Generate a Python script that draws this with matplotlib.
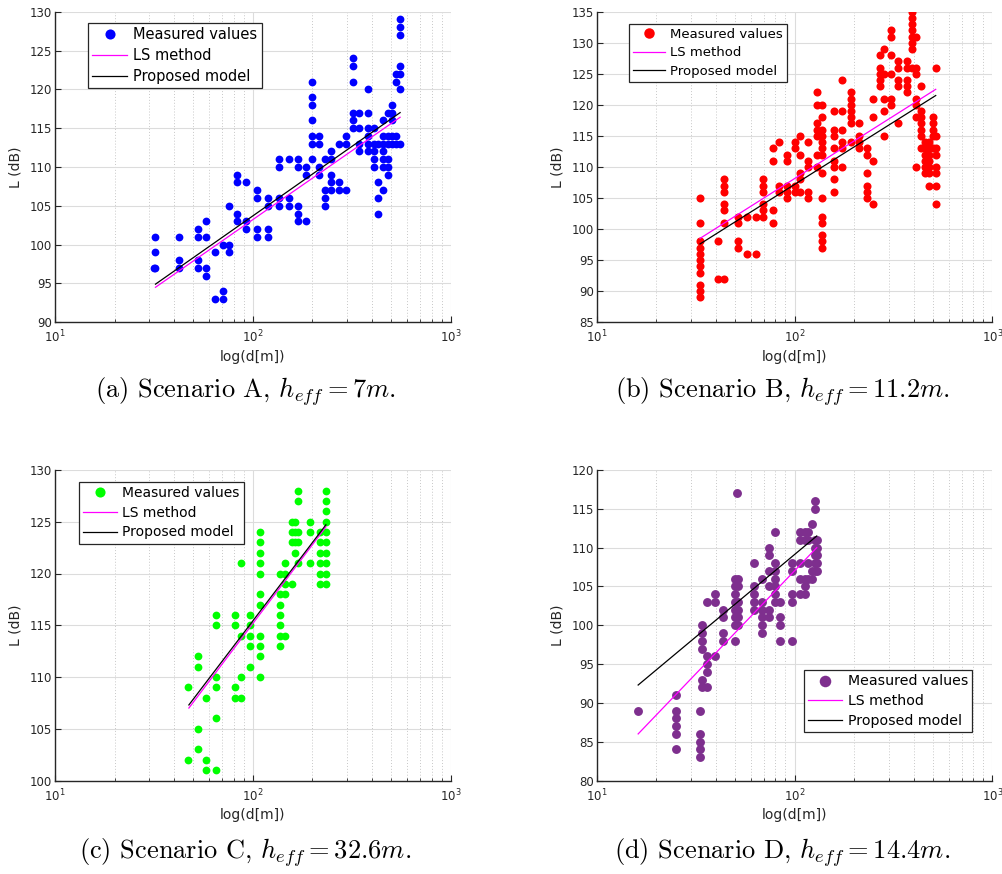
import numpy as np
import matplotlib.pyplot as plt
from matplotlib.ticker import LogLocator, NullFormatter, MultipleLocator

plt.rcParams['mathtext.fontset'] = 'cm'

# Scenario A: distance columns (m) and measured path loss (dB)
a_cols = [
    (31.7, [97]), (32.2, [101, 99, 97]), (42.3, [101, 98, 97]),
    (52.7, [102, 101, 98, 97]), (58, [103, 101, 97, 96]), (64.3, [99, 93]),
    (70.3, [100, 94, 93]), (75.9, [105, 100, 99]), (83.3, [109, 108, 104, 103]),
    (92.2, [108, 103, 102]), (104.7, [107, 106, 102, 101]), (118.6, [106, 105, 102, 101]),
    (135.8, [111, 110, 106, 105]), (152.5, [111, 106, 105]), (170, [111, 110, 105, 104, 103]),
    (185, [110, 109, 103]), (199.5, [121, 119, 118, 116, 114, 113, 111]),
    (216, [114, 113, 110, 109]), (231, [111, 107, 106, 105]), (248, [112, 111, 109, 108, 107]),
    (271, [113, 108, 107]), (295, [114, 113, 107]), (319, [124, 123, 121, 117, 116, 115]),
    (342, [117, 115, 113, 112]), (382, [120, 117, 115, 114, 113, 112]),
    (408, [115, 113, 112, 111, 110]), (431, [113, 108, 106, 104]),
    (455, [116, 114, 113, 112, 111, 110, 107]), (482, [117, 114, 113, 111, 110, 109]),
    (507, [118, 117, 116, 114, 113]), (532, [122, 121, 114, 113]),
    (555, [129, 128, 127, 123, 122, 120, 113]),
]
a_ls = ([32.2, 555], [94.5, 116.4])
a_prop = ([32.2, 555], [94.9, 117.0])

# Scenario B
b_cols = [
    (33.3, [105, 101, 98, 97, 96, 95, 94, 93, 91, 90, 89]), (41.2, [98, 92]),
    (44.2, [108, 107, 106, 104, 103, 101, 92]), (52, [102, 101, 98, 97]),
    (57.3, [102, 96]), (63.8, [102, 96]), (69, [108, 107, 106, 104, 103, 102]),
    (78.2, [113, 111, 103, 101]), (83.8, [114, 107, 106]), (91.3, [112, 111, 107, 106, 105]),
    (100, [114, 113, 107, 106]), (107, [115, 112, 109, 108, 106]),
    (117, [114, 111, 110, 106, 105]), (129.5, [122, 120, 117, 116, 115, 112, 110]),
    (137, [120, 118, 116, 115, 114, 113, 112, 109, 105, 102, 101, 99, 98, 97]),
    (159, [119, 116, 115, 113, 111, 110, 108, 106]), (174.5, [124, 119, 116, 114, 113, 110]),
    (192, [122, 121, 120, 119, 118, 117, 114]), (212, [117, 115, 114, 113]),
    (233, [113, 112, 109, 107, 106, 105]), (250, [121, 118, 111, 104]),
    (270, [128, 126, 125, 124, 123]), (283, [129, 125, 121, 119, 115]),
    (306, [132, 131, 128, 125, 121, 120]), (335, [127, 126, 124, 123, 117]),
    (369, [127, 126, 124, 123, 122]), (394, [135, 134, 133, 132, 131, 130, 129, 126]),
    (411, [131, 126, 125, 121, 120, 118, 110]), (436, [123, 119, 118, 117, 116, 115, 113]),
    (457, [114, 113, 112, 111, 110, 109]), (479, [114, 113, 112, 111, 110, 109, 107]),
    (500, [118, 117, 116, 115, 113]), (517, [126, 115, 113, 112, 110, 109, 107, 104]),
]
b_ls = ([33.3, 517], [98.5, 122.5])
b_prop = ([33.3, 517], [97.6, 121.5])

# Scenario C
c_cols = [
    (47.1, [109, 102]), (53, [112, 111, 105, 103]), (57.9, [108, 102, 101]),
    (65.5, [116, 115, 110, 109, 106, 101]), (81, [116, 115, 109, 108]),
    (87.6, [121, 114, 110, 108]), (97.3, [116, 115, 114, 113, 111]),
    (108.4, [124, 123, 122, 121, 120, 118, 117, 114, 113, 112, 110]),
    (137, [120, 118, 117, 116, 115, 114, 113]), (145, [121, 120, 119, 118, 114]),
    (157, [125, 124, 123, 119]), (163, [125, 124, 123, 122]),
    (169, [128, 127, 124, 123, 121]), (195, [125, 124, 121]),
    (218, [124, 123, 122, 121, 120, 119]),
    (234, [128, 127, 126, 125, 124, 123, 122, 121, 120, 119]),
]
c_ls = ([47.5, 234], [107.0, 124.5])
c_prop = ([47.5, 234], [107.3, 124.7])

# Scenario D
d_cols = [
    (16.1, [89]), (25.1, [91, 89, 88, 87, 86, 84]), (33.4, [89, 86, 85, 84, 83]),
    (34.2, [100, 99, 98, 97, 93, 92]), (36, [103, 96, 95, 94, 92]), (39.6, [104, 103, 96]),
    (43.6, [102, 101, 99, 98]), (50, [106, 105, 104, 103, 102, 101, 100, 98]), (51, [117]),
    (52, [106, 105, 103, 102, 101, 100]), (62.4, [108, 105, 104, 103, 102]),
    (68.2, [106, 103, 102, 101, 100, 99]), (74, [110, 109, 107, 105, 102, 101]),
    (79.6, [112, 108, 107, 106, 105, 104, 103]), (84.5, [103, 101, 100, 98]),
    (96.8, [108, 107, 104, 103, 98]), (106.6, [112, 111, 108, 106, 104]),
    (113, [112, 111, 106, 105, 104]), (117.5, [112, 111, 108, 106]),
    (123, [113, 107, 106]), (127, [116, 115, 111, 110, 109, 108, 107]),
    (130, [111, 110, 109, 108, 107]),
]
d_ls = ([16.2, 129.5], [86.0, 110.0])
d_prop = ([16.2, 129.5], [92.3, 111.5])

panels = [
    dict(cols=a_cols, ls=a_ls, prop=a_prop, color='#0000ff', ylim=(90, 130), ms=5.6,
         pos=[55, 11.7], leg=('upper left', (0.083, 0.964)), lfs=10.5,
         cap=r'(a) Scenario A, $h_{eff}=7m$.', capx=245, capy=392),
    dict(cols=b_cols, ls=b_ls, prop=b_prop, color='#ff0000', ylim=(85, 135), ms=5.8,
         pos=[596.7, 11.7], leg=('upper left', (0.082, 0.96)), lfs=9.5,
         cap=r'(b) Scenario B, $h_{eff}=11.2m$.', capx=782, capy=392),
    dict(cols=c_cols, ls=c_ls, prop=c_prop, color='#00ff00', ylim=(100, 130), ms=5.6,
         pos=[55, 470], leg=('upper left', (0.061, 0.961)), lfs=10,
         cap=r'(c) Scenario C, $h_{eff}=32.6m$.', capx=245, capy=853),
    dict(cols=d_cols, ls=d_ls, prop=d_prop, color='#7e2f8e', ylim=(80, 120), ms=6.4,
         pos=[596.7, 470], leg=('lower right', (0.949, 0.156)), lfs=10.2,
         cap=r'(d) Scenario D, $h_{eff}=14.4m$.', capx=782, capy=853),
]

W, H = 1003, 874
fig = plt.figure(figsize=(W / 100, H / 100), dpi=100)
axc = '#262626'

for p in panels:
    x0, y0 = p['pos']
    ax = fig.add_axes([x0 / W, 1 - (y0 + 310.5) / H, 395.7 / W, 310.5 / H])
    dd = [d for d, vals in p['cols'] for v in vals]
    LL = [v for d, vals in p['cols'] for v in vals]
    ax.plot(dd, LL, 'o', color=p['color'], ms=p['ms'], mew=0, label='Measured values')
    ax.plot(*p['ls'], color='#ff00ff', lw=0.9, label='LS method')
    ax.plot(*p['prop'], color='black', lw=0.9, label='Proposed model')
    ax.set_xscale('log')
    ax.set_xlim(10, 1000)
    ax.set_ylim(*p['ylim'])
    ax.yaxis.set_major_locator(MultipleLocator(5))
    ax.xaxis.set_minor_locator(LogLocator(base=10, subs=np.arange(2, 10)))
    ax.xaxis.set_minor_formatter(NullFormatter())
    ax.grid(True, which='major', color='#dcdcdc', lw=0.8)
    ax.grid(True, which='minor', axis='x', color='#c8c8c8', lw=0.7, ls=(0, (1, 2)))
    ax.set_axisbelow(True)
    for s in ['top', 'right']:
        ax.spines[s].set_visible(False)
    for s in ['left', 'bottom']:
        ax.spines[s].set_color(axc)
        ax.spines[s].set_linewidth(1.0)
    ax.tick_params(which='both', direction='in', colors=axc, labelsize=8.5)
    ax.tick_params(axis='x', which='major', length=4, pad=5)
    ax.tick_params(axis='x', which='minor', length=2.5)
    ax.tick_params(axis='y', which='major', length=4, pad=2)
    ax.set_xlabel('log(d[m])', fontsize=10, color=axc, labelpad=3)
    ax.set_ylabel('L (dB)', fontsize=10, color=axc, labelpad=5)
    leg = ax.legend(loc=p['leg'][0], bbox_to_anchor=p['leg'][1], borderaxespad=0,
                    fontsize=p['lfs'], fancybox=False, edgecolor=axc, framealpha=1,
                    handlelength=2.4, handletextpad=0.4, labelspacing=0.4,
                    borderpad=0.3, markerscale=1.3)
    leg.get_frame().set_linewidth(0.9)
    fig.text(p['capx'] / W, 1 - p['capy'] / H, p['cap'], ha='center', va='center',
             fontsize=19, family='cmr10')

fig.savefig('out.png', dpi=100)
